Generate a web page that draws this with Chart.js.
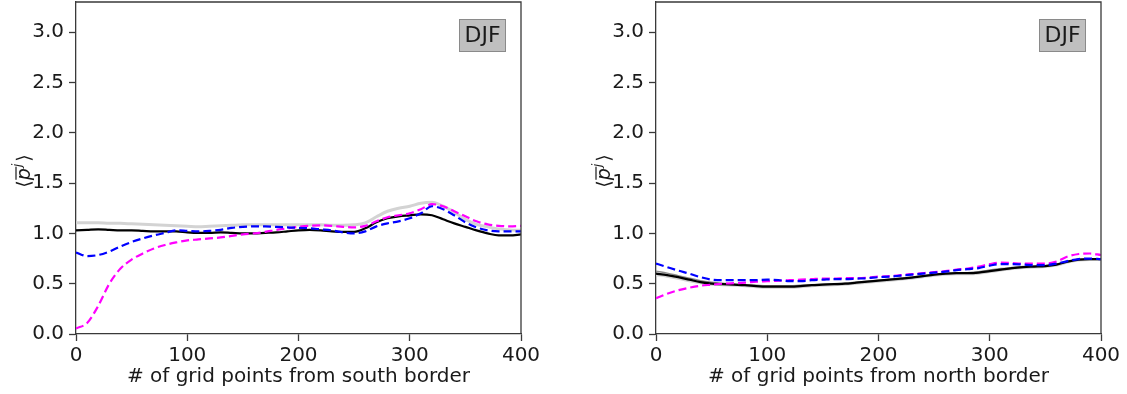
<!DOCTYPE html>
<html>
<head>
<meta charset="utf-8">
<script src="https://cdn.jsdelivr.net/npm/chart.js@4.4.1/dist/chart.umd.min.js"></script>
<style>
  html, body { margin: 0; padding: 0; background: #ffffff; }
  #wrap { position: relative; width: 1127px; height: 394px; overflow: hidden; background: #fff; }
  canvas { position: absolute; top: 0; }
</style>
</head>
<body>
<div id="wrap">
  <canvas id="south" width="563" height="394" style="left:0px"></canvas>
  <canvas id="north" width="547" height="394" style="left:580px"></canvas>
</div>
<script>
// ---------- data ----------
const gridX = [0,10,20,30,40,50,60,70,80,90,100,110,120,130,140,150,160,170,180,190,200,
               210,220,230,240,250,260,270,280,290,300,310,320,330,340,350,360,370,380,390,400];
const yTicks = [0.0, 0.5, 1.0, 1.5, 2.0, 2.5, 3.0];
const xTicks = [0, 100, 200, 300, 400];
const seasonLabel = "DJF";
const yAxisLabel = "⟨p̄ʲ⟩";
const southTitle = "# of grid points from south border";
const northTitle = "# of grid points from north border";

const southBlack = [1.03,1.035,1.04,1.035,1.03,1.03,1.025,1.02,1.02,1.02,1.01,1.005,1.005,1.01,1.005,1.0,1.0,1.005,1.01,1.02,1.03,
  1.035,1.03,1.02,1.015,1.015,1.05,1.11,1.15,1.17,1.18,1.19,1.18,1.14,1.10,1.065,1.03,1.0,0.98,0.98,0.99];
const southLightGray = [1.105,1.105,1.105,1.1,1.1,1.095,1.09,1.085,1.08,1.075,1.07,1.065,1.07,1.075,1.08,1.085,1.085,1.085,1.085,1.085,1.085,
  1.085,1.085,1.08,1.08,1.085,1.105,1.165,1.22,1.25,1.27,1.30,1.31,1.27,1.21,1.14,1.09,1.065,1.045,1.035,1.03];
const southBlue = [0.81,0.775,0.785,0.82,0.87,0.915,0.95,0.98,1.005,1.03,1.025,1.02,1.025,1.035,1.055,1.065,1.07,1.07,1.065,1.06,1.055,
  1.05,1.04,1.03,1.01,1.0,1.02,1.07,1.10,1.12,1.15,1.20,1.27,1.24,1.18,1.11,1.06,1.03,1.02,1.02,1.02];
const southMagenta = [0.055,0.11,0.28,0.50,0.65,0.74,0.80,0.85,0.885,0.91,0.93,0.94,0.95,0.96,0.975,0.99,1.0,1.015,1.035,1.05,1.065,
  1.075,1.08,1.075,1.065,1.06,1.075,1.12,1.16,1.18,1.20,1.24,1.29,1.27,1.22,1.17,1.12,1.09,1.075,1.07,1.075];

const northBlack = [0.60,0.585,0.565,0.54,0.515,0.50,0.495,0.49,0.485,0.475,0.47,0.47,0.47,0.475,0.485,0.49,0.495,0.50,0.51,0.52,0.53,
  0.54,0.55,0.56,0.575,0.59,0.60,0.605,0.605,0.61,0.625,0.64,0.655,0.665,0.67,0.675,0.69,0.72,0.74,0.745,0.745];
const northGray = [0.625,0.605,0.58,0.555,0.53,0.515,0.505,0.495,0.49,0.485,0.48,0.48,0.48,0.485,0.49,0.495,0.50,0.505,0.515,0.525,0.535,
  0.545,0.555,0.565,0.58,0.59,0.60,0.605,0.61,0.62,0.635,0.65,0.66,0.67,0.675,0.68,0.695,0.72,0.74,0.745,0.745];
const northLightGray = [0.59,0.575,0.555,0.53,0.51,0.495,0.49,0.485,0.48,0.47,0.465,0.465,0.465,0.47,0.48,0.485,0.49,0.495,0.505,0.515,0.525,
  0.535,0.545,0.555,0.57,0.585,0.595,0.60,0.60,0.605,0.62,0.635,0.65,0.66,0.665,0.67,0.685,0.715,0.735,0.74,0.74];
const northBlue = [0.70,0.665,0.63,0.60,0.565,0.54,0.535,0.535,0.535,0.535,0.54,0.535,0.525,0.525,0.535,0.54,0.545,0.545,0.55,0.555,0.565,
  0.57,0.58,0.59,0.60,0.61,0.62,0.635,0.645,0.655,0.68,0.695,0.695,0.69,0.685,0.685,0.70,0.725,0.745,0.75,0.745];
const northMagenta = [0.355,0.40,0.435,0.46,0.48,0.49,0.50,0.505,0.51,0.52,0.525,0.53,0.535,0.54,0.545,0.55,0.55,0.555,0.555,0.56,0.57,
  0.575,0.585,0.595,0.605,0.615,0.625,0.64,0.65,0.67,0.695,0.71,0.705,0.70,0.70,0.70,0.72,0.77,0.795,0.80,0.785];

// ---------- helpers ----------
const FONT = "'DejaVu Sans', 'Liberation Sans', sans-serif";
const TEXT = '#1a1a1a';
const SPINE = '#3a3a3a';

function pts(ys) { return gridX.map((x, i) => ({ x: x, y: ys[i] })); }

function lineDs(ys, color, width, dash) {
  return {
    data: pts(ys), borderColor: color, backgroundColor: color, borderWidth: width,
    borderDash: dash || [], pointRadius: 0, fill: false,
    cubicInterpolationMode: 'monotone', borderCapStyle: 'butt'
  };
}

const framePlugin = {
  id: 'frame',
  afterDatasetsDraw(chart) {
    const { ctx, chartArea: a } = chart;
    ctx.save();
    ctx.strokeStyle = SPINE;
    ctx.lineWidth = 1.3;
    ctx.beginPath();
    ctx.moveTo(a.left, a.top); ctx.lineTo(a.right, a.top); ctx.lineTo(a.right, a.bottom);
    ctx.stroke();
    // season box
    const bw = 47, bh = 33;
    const bx = a.right - 15 - bw, by = a.top + 17;
    ctx.fillStyle = '#bfbfbf';
    ctx.fillRect(bx, by, bw, bh);
    ctx.strokeStyle = '#8a8a8a';
    ctx.lineWidth = 1;
    ctx.strokeRect(bx + 0.5, by + 0.5, bw - 1, bh - 1);
    ctx.fillStyle = TEXT;
    ctx.font = "22px " + FONT;
    ctx.textAlign = 'center';
    ctx.textBaseline = 'middle';
    ctx.fillText(seasonLabel, bx + bw / 2, by + bh / 2 + 1);
    ctx.restore();
  }
};

const yLabelPlugin = {
  id: 'ylab',
  afterDraw(chart) {
    const ctx = chart.ctx;
    const cx = 24, cy = 171;
    ctx.save();
    ctx.translate(cx, cy);
    ctx.rotate(-Math.PI / 2);
    ctx.fillStyle = TEXT;
    ctx.strokeStyle = TEXT;
    ctx.textBaseline = 'alphabetic';
    ctx.textAlign = 'left';
    const normal = "19px " + FONT, ital = "italic 19px " + FONT, sup = "italic 13px " + FONT;
    ctx.font = normal; const wL = ctx.measureText("⟨").width;
    ctx.font = ital; const wP = ctx.measureText("p").width;
    ctx.font = sup; const wJ = ctx.measureText("j").width;
    ctx.font = normal; const wR = ctx.measureText("⟩").width;
    const total = wL + wP + 1 + wJ + 2 + wR;
    let u = -total / 2;
    const base = 6;
    ctx.font = normal; ctx.fillText("⟨", u, base); u += wL;
    ctx.font = ital; ctx.fillText("p", u, base);
    ctx.lineWidth = 1.2;
    ctx.beginPath(); ctx.moveTo(u + 0.5, base - 14); ctx.lineTo(u + wP + 1.5, base - 14); ctx.stroke();
    u += wP + 1;
    ctx.font = sup; ctx.fillText("j", u, base - 9); u += wJ + 2;
    ctx.font = normal; ctx.fillText("⟩", u, base);
    ctx.restore();
  }
};

function makeChart(id, datasets, title, rightPad) {
  return new Chart(document.getElementById(id), {
    type: 'line',
    data: { datasets: datasets },
    options: {
      responsive: false, animation: false, devicePixelRatio: 1,
      layout: { padding: { left: 0, right: rightPad, top: 2, bottom: 0 } },
      plugins: { legend: { display: false }, tooltip: { enabled: false }, title: { display: false } },
      scales: {
        x: {
          type: 'linear', min: 0, max: 400,
          afterBuildTicks: s => { s.ticks = xTicks.map(v => ({ value: v })); },
          afterFit: s => { s.height = 60; s.paddingLeft = 0; s.paddingRight = 0; },
          grid: { drawOnChartArea: false, drawTicks: true, tickLength: 7, color: SPINE, tickWidth: 1.3 },
          border: { display: true, color: SPINE, width: 1.3 },
          ticks: { color: TEXT, font: { family: FONT, size: 20 }, padding: 3, maxRotation: 0,
                   callback: v => String(v) },
          title: { display: true, text: title, color: TEXT, font: { family: FONT, size: 20 },
                   padding: { top: 0, bottom: 5 } }
        },
        y: {
          type: 'linear', min: 0, max: 3.3,
          afterBuildTicks: s => { s.ticks = yTicks.map(v => ({ value: v })); },
          afterFit: s => { s.width = 76; s.paddingTop = 0; s.paddingBottom = 0; },
          grid: { drawOnChartArea: false, drawTicks: true, tickLength: 7, color: SPINE, tickWidth: 1.3 },
          border: { display: true, color: SPINE, width: 1.3 },
          ticks: { color: TEXT, font: { family: FONT, size: 20 }, padding: 5,
                   callback: v => Number(v).toFixed(1) }
        }
      }
    },
    plugins: [framePlugin, yLabelPlugin]
  });
}

const DASH = [8, 4];
makeChart('south', [
  lineDs(southBlue, '#0000ff', 2.2, DASH),
  lineDs(southMagenta, '#ff00ff', 2.2, DASH),
  lineDs(southBlack, '#000000', 2.2),
  lineDs(southLightGray, '#d3d3d3', 3)
], southTitle, 42);

makeChart('north', [
  lineDs(northBlue, '#0000ff', 2.2, DASH),
  lineDs(northMagenta, '#ff00ff', 2.2, DASH),
  lineDs(northBlack, '#000000', 2.2),
  lineDs(northGray, '#8c8c8c', 1.5),
  lineDs(northLightGray, '#d3d3d3', 3)
], northTitle, 26);
</script>
</body>
</html>
